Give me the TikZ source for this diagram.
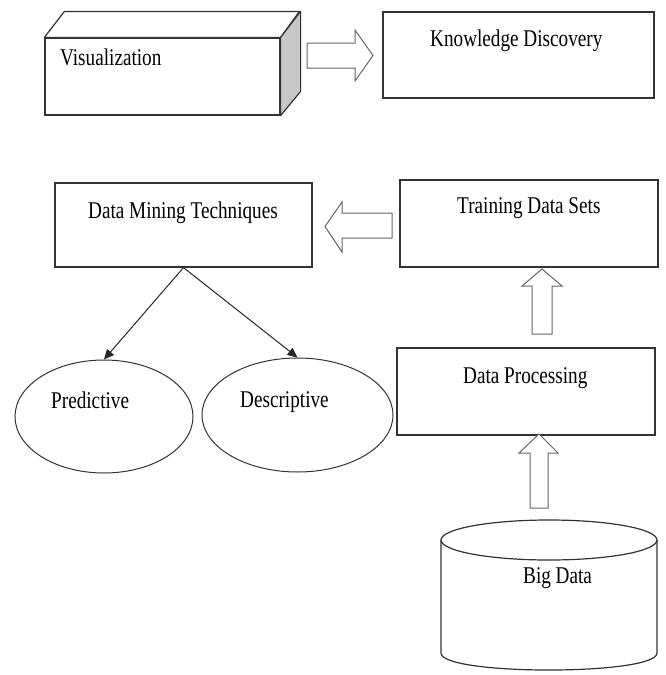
\documentclass[tikz,border=0pt]{standalone}
\usepackage{fontspec}
\setmainfont{Liberation Serif}[FakeStretch=0.8]
\usetikzlibrary{shapes.geometric,arrows.meta}
\begin{document}
\begin{tikzpicture}[x=1pt,y=-1pt,
  box/.style={draw=black!80, line width=1.2pt, rectangle, inner sep=0pt},
  face/.style={draw=black!80, line width=1.2pt, line join=round},
  lbl/.style={anchor=base west, inner sep=0pt, text=black, font=\fontsize{24}{28}\selectfont},
  blockarrow/.style={draw=black!60, line width=1pt, fill=white, line join=miter},
  oval/.style={ellipse, draw=black!80, line width=1pt, inner sep=0pt},
  link/.style={draw=black!85, line width=1pt, -{Triangle[length=10pt,width=9pt]}}
]
\useasboundingbox (0,0) rectangle (665,675);

% 3D box: front face, top face, shaded side face
\node[box, minimum width=235, minimum height=77] (vis) at (162.5,76.5) {};
\draw[face, fill=white] (vis.north west) -- ++(20,-26) -- ++(235,0) -- (vis.north east) -- cycle;
\draw[face, fill=black!22] (vis.north east) -- ++(20,-26) -- ++(0,80) -- (vis.south east) -- cycle;
\node[lbl] (vislbl) at (60,65) {Visualization};

% plain boxes
\node[box, minimum width=271, minimum height=86] (kd) at (518.5,55) {};
\node[lbl] (kdlbl) at (430,46) {Knowledge Discovery};

\node[box, minimum width=257, minimum height=84] (dmt) at (183.5,225) {};
\node[lbl] (dmtlbl) at (88,218) {Data Mining Techniques};

\node[box, minimum width=258, minimum height=87] (tds) at (529,223.5) {};
\node[lbl] (tdslbl) at (457,213) {Training Data Sets};

\node[box, minimum width=258, minimum height=87] (dp) at (526,391.5) {};
\node[lbl] (dplbl) at (463,383) {Data Processing};

% technique ovals
\node[oval, minimum width=178, minimum height=113] (pred) at (104,416.5) {};
\node[lbl] (predlbl) at (51,408) {Predictive};
\node[oval, minimum width=191, minimum height=114] (desc) at (297.5,415) {};
\node[lbl] (desclbl) at (240,407) {Descriptive};

\draw[link] (dmt.south) -- (pred.north);
\draw[link] (dmt.south) -- (desc.north);

% database cylinder
\coordinate (cyltop) at (549,540);
\draw[face] (cyltop) ellipse [x radius=108, y radius=20];
\draw[face] (441,540) -- (441,653) .. controls (441,675.7) and (657,675.7) .. (657,653) -- (657,540);
\node[lbl] (bdlbl) at (523,583) {Big Data};

% block arrows between stages
\draw[blockarrow] (307,43) -- (355,43) -- (355,30) -- (373,55.5) -- (355,81) -- (355,68) -- (307,68) -- cycle;
\draw[blockarrow] (392,213) -- (342,213) -- (342,202) -- (325,226.5) -- (342,252) -- (342,238) -- (392,238) -- cycle;
\draw[blockarrow] (532,334) -- (532,286) -- (522,286) -- (542,269) -- (562,286) -- (552,286) -- (552,334) -- cycle;
\draw[blockarrow] (530,508) -- (530,453) -- (519,453) -- (539,434) -- (558,453) -- (548,453) -- (548,508) -- cycle;
\end{tikzpicture}
\end{document}
